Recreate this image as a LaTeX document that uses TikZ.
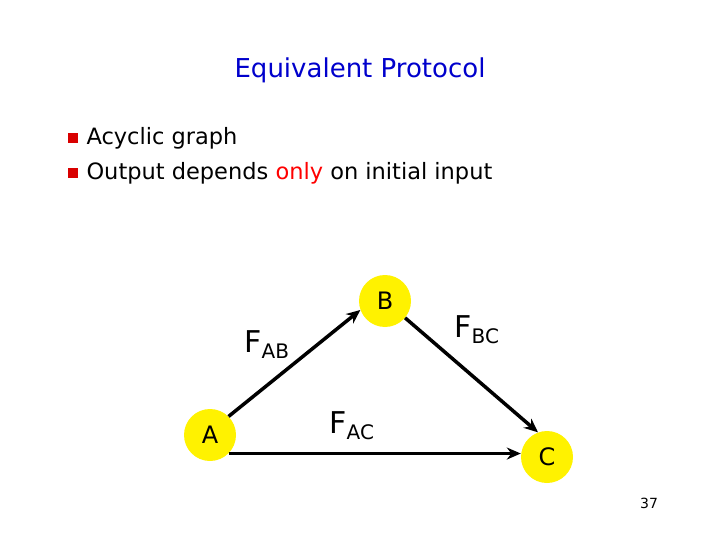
\documentclass[tikz,border=0pt]{standalone}
\usepackage{fontspec}
\setmainfont{DejaVu Sans}
\usetikzlibrary{arrows.meta}
\begin{document}
\begin{tikzpicture}[x=1pt,y=-1pt,
  vert/.style={circle,fill=yellow,minimum size=52pt,inner sep=0pt,font=\fontsize{24}{28}\selectfont},
  edge/.style={line width=3.5pt,-{Stealth[length=14pt,width=12pt]}},
  flab/.style={font=\fontsize{30}{34}\selectfont},
  bul/.style={fill=red!85!black}]
\useasboundingbox (0,0) rectangle (720,540);
\node[text=blue!80!black,font=\fontsize{26}{30}\selectfont] (title) at (360,70) {Equivalent Protocol};
\node[bul,minimum size=10pt,inner sep=0pt] (b1) at (73,138) {};
\node[bul,minimum size=10pt,inner sep=0pt] (b2) at (73,173) {};
\node[anchor=west,font=\fontsize{22.5}{26}\selectfont] (t1) at (83,138) {Acyclic graph};
\node[anchor=west,font=\fontsize{22.5}{26}\selectfont] (t2) at (83,173) {Output depends \textcolor{red}{only} on initial input};
\node[vert] (B) at (385,301) {B};
\node[vert] (A) at (210,435) {A};
\node[vert] (C) at (547,457) {C};
\draw[edge] (A.45) -- (B.200);
\draw[edge] (B.-40) -- (C.110);
\coordinate (ac) at (A.-45);
\draw[edge] (ac) -- (ac -| C.west);
\node[flab] (fab) at (267,345) {F\textsubscript{\fontsize{20}{22}\selectfont AB}};
\node[flab] (fbc) at (477,330) {F\textsubscript{\fontsize{20}{22}\selectfont BC}};
\node[flab] (fac) at (352,426) {F\textsubscript{\fontsize{20}{22}\selectfont AC}};
\node[font=\fontsize{14}{16}\selectfont] (pg) at (649,503) {37};
\end{tikzpicture}
\end{document}
